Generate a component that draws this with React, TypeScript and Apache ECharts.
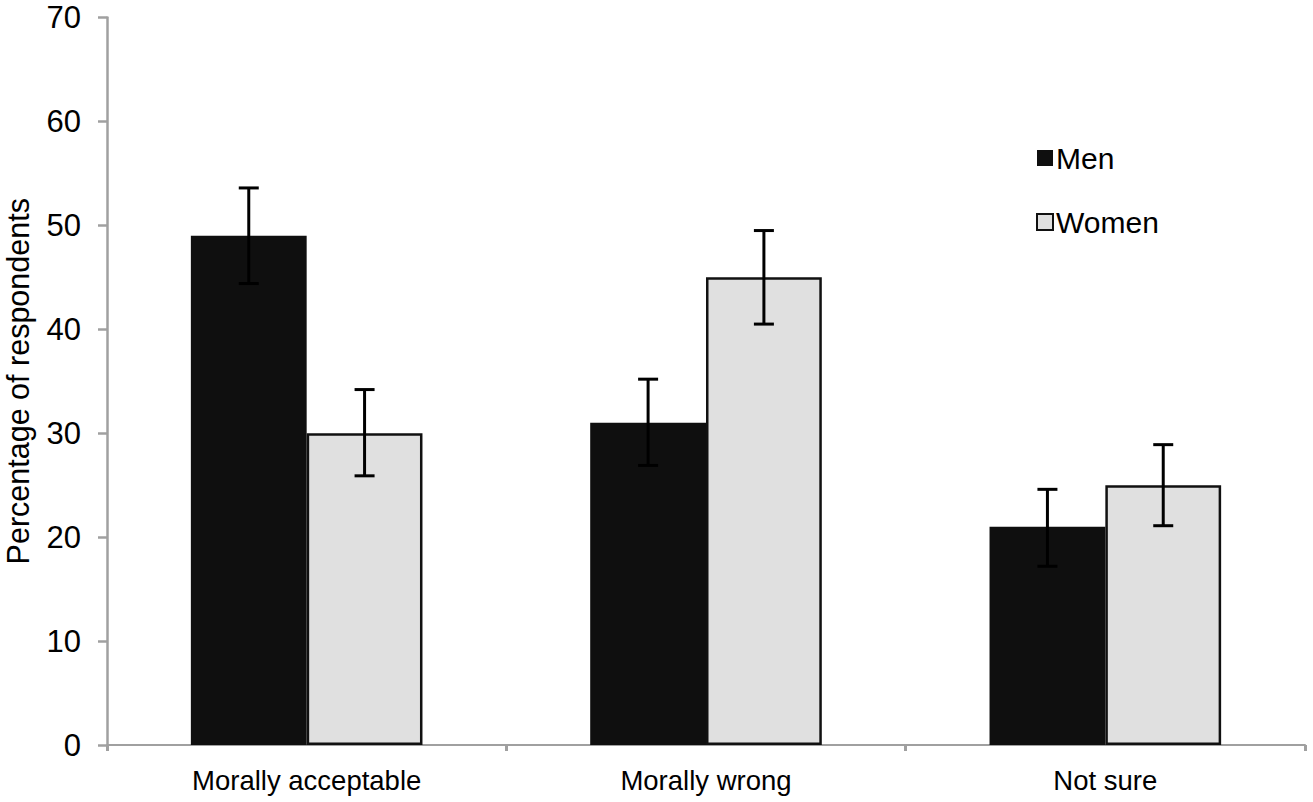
import React, { useEffect, useRef } from "react";
import * as echarts from "echarts";

const categories = ["Morally acceptable", "Morally wrong", "Not sure"];
const menValues = [49, 31, 21];
const womenValues = [30, 45, 25];
const menLow = [44.4, 26.9, 17.2];
const menHigh = [53.6, 35.2, 24.6];
const womenLow = [25.9, 40.5, 21.1];
const womenHigh = [34.2, 49.5, 28.9];
const yTicks = [0, 10, 20, 30, 40, 50, 60, 70];

const FONT = "'Liberation Sans', Arial, sans-serif";
const CAT_GAP = 0.42;

function errorSeries(name: string, lows: number[], highs: number[], side: number) {
  return {
    type: "custom",
    name,
    z: 10,
    silent: true,
    data: lows.map((l, i) => [i, l, highs[i]]),
    encode: { x: 0, y: [1, 2] },
    renderItem: (params: any, api: any) => {
      const idx = api.value(0);
      const lo = api.coord([idx, api.value(1)]);
      const hi = api.coord([idx, api.value(2)]);
      const band = api.size([1, 0])[0];
      const barW = (band * (1 - CAT_GAP)) / 2;
      const x = lo[0] + (side * barW) / 2;
      const cap = 10;
      const style = { stroke: "#000", lineWidth: 3 };
      return {
        type: "group",
        children: [
          { type: "line", shape: { x1: x, y1: lo[1], x2: x, y2: hi[1] }, style },
          { type: "line", shape: { x1: x - cap, y1: hi[1], x2: x + cap, y2: hi[1] }, style },
          { type: "line", shape: { x1: x - cap, y1: lo[1], x2: x + cap, y2: lo[1] }, style },
        ],
      };
    },
  };
}

export default function App() {
  const ref = useRef<HTMLDivElement>(null);
  useEffect(() => {
    if (!ref.current) return;
    const chart = echarts.init(ref.current, undefined, { renderer: "svg" });
    chart.setOption({
      animation: false,
      backgroundColor: "#fff",
      textStyle: { fontFamily: FONT },
      grid: {
        left: 107,
        right: 8,
        top: 17.5,
        bottom: 57,
        containLabel: false,
        outerBoundsMode: "none",
      },
      legend: {
        data: ["Men", "Women"],
        orient: "vertical",
        left: 1031,
        top: 138,
        itemWidth: 16,
        itemHeight: 16,
        itemGap: 34,
        icon: "rect",
        textStyle: { fontSize: 30, color: "#000", fontFamily: FONT, padding: [0, 0, 0, -2] },
      },
      xAxis: {
        type: "category",
        data: categories,
        axisLine: { lineStyle: { color: "#a0a0a0", width: 2 } },
        axisTick: { show: true, length: 6, lineStyle: { color: "#a0a0a0", width: 3 } },
        axisLabel: { fontSize: 27.5, color: "#000", margin: 21, fontFamily: FONT },
      },
      yAxis: {
        type: "value",
        min: yTicks[0],
        max: yTicks[yTicks.length - 1],
        interval: 10,
        name: "Percentage of respondents",
        nameLocation: "middle",
        nameRotate: 90,
        nameGap: 74,
        nameTextStyle: { fontSize: 30.5, color: "#000", fontFamily: FONT },
        axisLine: { show: true, lineStyle: { color: "#a0a0a0", width: 2.5 } },
        axisTick: { show: true, length: 9, lineStyle: { color: "#a0a0a0", width: 2.5 } },
        splitLine: { show: false },
        axisLabel: { fontSize: 31, color: "#000", margin: 26, fontFamily: FONT },
      },
      series: [
        {
          type: "bar",
          name: "Men",
          data: menValues,
          barGap: "0%",
          barCategoryGap: CAT_GAP * 100 + "%",
          itemStyle: { color: "#0f0f0f" },
        },
        {
          type: "bar",
          name: "Women",
          data: womenValues,
          barGap: "0%",
          barCategoryGap: CAT_GAP * 100 + "%",
          itemStyle: { color: "#e0e0e0", borderColor: "#111", borderWidth: 2.5 },
        },
        errorSeries("MenErr", menLow, menHigh, -1),
        errorSeries("WomenErr", womenLow, womenHigh, 1),
      ],
    });
    return () => chart.dispose();
  }, []);
  return (
    <div
      ref={ref}
      style={{ position: "fixed", left: 0, top: 0, width: 1313, height: 802, background: "#fff" }}
    />
  );
}
